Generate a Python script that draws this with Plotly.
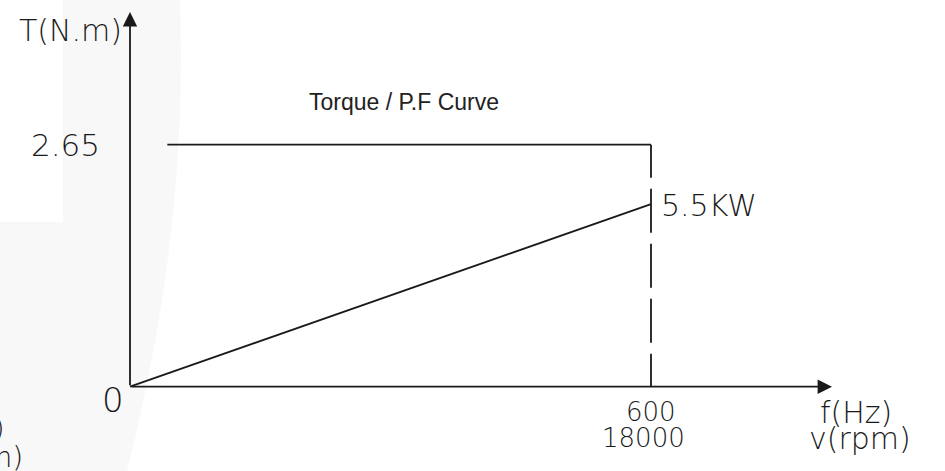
import plotly.graph_objects as go

# ---- data ----
freq_end = 600          # Hz
rpm_end = 18000         # rpm
torque_value = 2.65     # N.m
torque_x = [43, 600]
torque_y = [2.65, 2.65]
power_x = [0, 600]
power_y = [0, 2.0]
power_label = "5.5KW"
x_ticks = ["600", "18000"]
y_tick = "2.65"

W, H = 945, 471
# pixel mapping
X0PX, XSC = 130.0, 521.0 / 600.0
Y0PX, YSC = 386.7, 242.0 / 2.65
xr = [-X0PX / XSC, (W - X0PX) / XSC]
yr = [-(H - Y0PX) / YSC, Y0PX / YSC]

def px(x):
    return x / W

def py(y):
    return 1 - y / H

INK = "#1a1a1a"
CAD = dict(family="DejaVu Sans", color=INK, weight=200)

fig = go.Figure()

# faint watermark background
fig.add_shape(type="path", xref="paper", yref="paper", layer="below",
              path=f"M {px(63)} {py(0)} L {px(180)} {py(0)} C {px(185)} {py(150)} {px(170)} {py(300)} {px(127)} {py(471)} "
                   f"L {px(0)} {py(471)} L {px(0)} {py(222)} L {px(63)} {py(222)} Z",
              fillcolor="#f8f8f8", line=dict(width=0))

fig.add_trace(go.Scatter(x=torque_x, y=torque_y, mode="lines",
                         line=dict(color=INK, width=1.8), hoverinfo="skip"))
fig.add_trace(go.Scatter(x=[freq_end, freq_end], y=[torque_value, 0], mode="lines",
                         line=dict(color=INK, width=1.8,
                                   dash="33px,11px,44px,11px,44px,11px,44px,11px,44px"),
                         hoverinfo="skip"))
fig.add_trace(go.Scatter(x=power_x, y=power_y, mode="lines",
                         line=dict(color=INK, width=1.8), hoverinfo="skip"))

# axes with arrows
x_arrow_end = (832 - X0PX) / XSC
y_arrow_end = (Y0PX - 12) / YSC
fig.add_annotation(x=x_arrow_end, y=0, ax=0, ay=0, xref="x", yref="y", axref="x", ayref="y",
                   showarrow=True, arrowhead=2, arrowsize=1.6, arrowwidth=1.8, arrowcolor=INK, text="")
fig.add_annotation(x=0, y=y_arrow_end, ax=0, ay=0, xref="x", yref="y", axref="x", ayref="y",
                   showarrow=True, arrowhead=2, arrowsize=1.6, arrowwidth=1.8, arrowcolor=INK, text="")

def label(text, x, y, size, xanchor="center", font=None):
    f = dict(CAD) if font is None else dict(font)
    f["size"] = size
    fig.add_annotation(x=px(x), y=py(y), xref="paper", yref="paper", text=text,
                       showarrow=False, xanchor=xanchor, yanchor="middle", font=f)

label("T(N.m)", 70, 31, 30)
label(y_tick, 65, 145, 31)
label("0", 113, 400, 34)
label(x_ticks[0], 651, 412, 26)
label(x_ticks[1], 643, 438, 26)
label("f(Hz)", 856, 412, 30)
label("v(rpm)", 860, 438, 30)
label(power_label, 659, 205, 30, xanchor="left")
label(")", 7, 427, 27, xanchor="right")
label("m)", 25, 457, 28, xanchor="right")
label("Torque / P.F Curve", 307, 102, 23, xanchor="left",
      font=dict(family="Liberation Sans", color="#222222"))

fig.update_layout(width=W, height=H, margin=dict(l=0, r=0, t=0, b=0),
                  paper_bgcolor="white", plot_bgcolor="rgba(0,0,0,0)", showlegend=False,
                  xaxis=dict(range=xr, visible=False, fixedrange=True),
                  yaxis=dict(range=yr, visible=False, fixedrange=True))

fig.write_html("out.html", config={"displayModeBar": False},
               post_script="document.body.style.margin='0';")
